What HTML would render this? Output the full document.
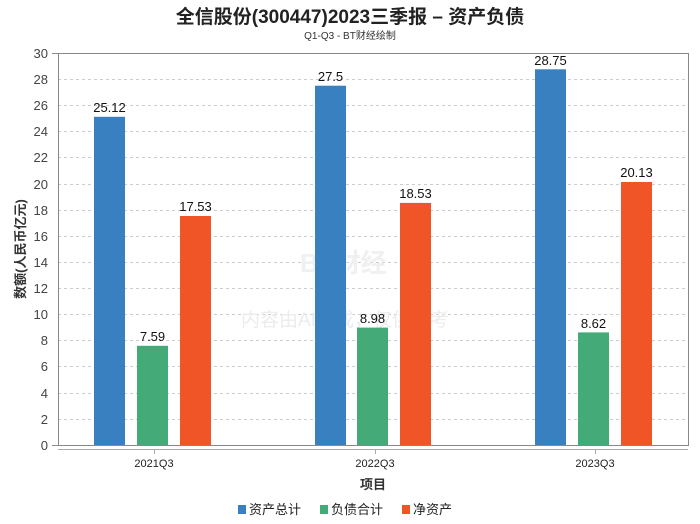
<!DOCTYPE html>
<html><head><meta charset="utf-8"><style>
body{margin:0;background:#fff}
svg{display:block;font-family:"Liberation Sans","Noto Sans CJK SC",sans-serif}
</style></head><body>
<svg width="700" height="524" viewBox="0 0 700 524" xmlns="http://www.w3.org/2000/svg">
<rect width="700" height="524" fill="#fff"/>
<text x="350" y="23" text-anchor="middle" font-size="19" font-weight="bold" fill="#222">全信股份(300447)2023三季报 – 资产负债</text>
<text x="350" y="39" text-anchor="middle" font-size="10" fill="#333">Q1-Q3 - BT财经绘制</text>
<g stroke="#ccc" stroke-dasharray="3,3" stroke-width="1">
<line x1="58" x2="688" y1="53.5" y2="53.5"/><line x1="58" x2="688" y1="79.5" y2="79.5"/><line x1="58" x2="688" y1="105.5" y2="105.5"/><line x1="58" x2="688" y1="131.5" y2="131.5"/><line x1="58" x2="688" y1="157.5" y2="157.5"/><line x1="58" x2="688" y1="184.5" y2="184.5"/><line x1="58" x2="688" y1="210.5" y2="210.5"/><line x1="58" x2="688" y1="236.5" y2="236.5"/><line x1="58" x2="688" y1="262.5" y2="262.5"/><line x1="58" x2="688" y1="288.5" y2="288.5"/><line x1="58" x2="688" y1="314.5" y2="314.5"/><line x1="58" x2="688" y1="340.5" y2="340.5"/><line x1="58" x2="688" y1="366.5" y2="366.5"/><line x1="58" x2="688" y1="393.5" y2="393.5"/><line x1="58" x2="688" y1="419.5" y2="419.5"/>
</g>
<rect x="58.5" y="53.5" width="630" height="392" fill="none" stroke="#888"/>
<g font-size="13" fill="#444" text-anchor="end">
<text x="48" y="58">30</text><text x="48" y="84">28</text><text x="48" y="110">26</text><text x="48" y="136">24</text><text x="48" y="162">22</text><text x="48" y="189">20</text><text x="48" y="215">18</text><text x="48" y="241">16</text><text x="48" y="267">14</text><text x="48" y="293">12</text><text x="48" y="319">10</text><text x="48" y="345">8</text><text x="48" y="371">6</text><text x="48" y="398">4</text><text x="48" y="424">2</text><text x="48" y="450">0</text>
</g>
<g stroke="#888"><line x1="52" x2="58" y1="53.5" y2="53.5"/><line x1="52" x2="58" y1="445.5" y2="445.5"/></g>
<text x="300" y="272" font-size="26" fill="#f0f0f0" font-weight="bold">BT财经</text>
<text x="345" y="326" text-anchor="middle" font-size="19" fill="#ececec">内容由AI生成，仅供参考</text>
<g>
<rect x="94" y="116.8" width="31" height="328.2" fill="#3880c0"/>
<rect x="137" y="345.8" width="31" height="99.2" fill="#44aa77"/>
<rect x="180" y="216" width="31" height="229" fill="#f05528"/>
<rect x="315" y="85.7" width="31" height="359.3" fill="#3880c0"/>
<rect x="357" y="327.6" width="31" height="117.4" fill="#44aa77"/>
<rect x="400" y="202.9" width="31" height="242.1" fill="#f05528"/>
<rect x="535" y="69.3" width="31" height="375.7" fill="#3880c0"/>
<rect x="578" y="332.4" width="31" height="112.6" fill="#44aa77"/>
<rect x="621" y="182" width="31" height="263" fill="#f05528"/>
</g>
<g font-size="13" fill="#111" text-anchor="middle">
<text x="109.5" y="112">25.12</text><text x="152.5" y="341">7.59</text><text x="195.5" y="211">17.53</text>
<text x="330.5" y="81">27.5</text><text x="372.5" y="323">8.98</text><text x="415.5" y="198">18.53</text>
<text x="550.5" y="65">28.75</text><text x="593.5" y="328">8.62</text><text x="636.5" y="177">20.13</text>
</g>
<line x1="58" x2="688" y1="449.5" y2="449.5" stroke="#aaa"/>
<g stroke="#aaa"><line x1="154.5" x2="154.5" y1="449" y2="454"/><line x1="375.5" x2="375.5" y1="449" y2="454"/><line x1="595.5" x2="595.5" y1="449" y2="454"/></g>
<g font-size="11" fill="#222" text-anchor="middle">
<text x="154" y="467">2021Q3</text><text x="375" y="467">2022Q3</text><text x="595" y="467">2023Q3</text>
</g>
<text x="373" y="489" text-anchor="middle" font-size="13" font-weight="bold" fill="#333">项目</text>
<text transform="translate(25,249) rotate(-90)" text-anchor="middle" font-size="13" font-weight="bold" fill="#333">数额(人民币亿元)</text>
<g font-size="13" fill="#222">
<rect x="238" y="505" width="8" height="9" fill="#3880c0"/><text x="249" y="514">资产总计</text>
<rect x="320" y="505" width="8" height="9" fill="#44aa77"/><text x="331" y="514">负债合计</text>
<rect x="402" y="505" width="8" height="9" fill="#f05528"/><text x="413" y="514">净资产</text>
</g>
</svg>
</body></html>
